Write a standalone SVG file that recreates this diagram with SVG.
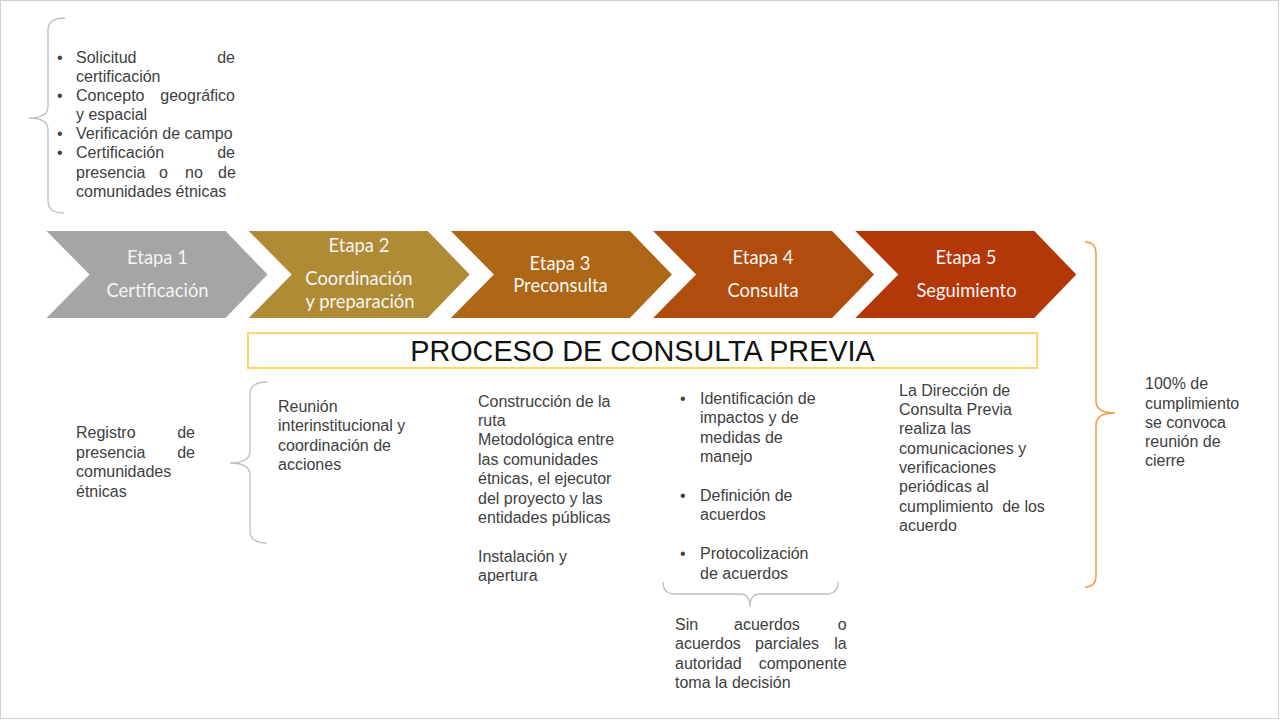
<svg xmlns="http://www.w3.org/2000/svg" width="1280" height="720" viewBox="0 0 1280 720">
<style>
.t{font-family:"Liberation Sans",Arial,sans-serif;font-size:16px;fill:#404040}
.ch{font-family:Lato,"Open Sans",sans-serif;font-size:18.4px;fill:#f4f4f4;text-anchor:middle}
.br{fill:none;stroke:#bfbfbf;stroke-width:1.3}
.e{text-anchor:end}
</style>
<rect x="0.5" y="0.5" width="1278" height="718" fill="#ffffff" stroke="#d0d0d0" stroke-width="1"/>

<g id="connectors">
<path class="br" d="M65,18 Q48,18 48,30 L48,106 Q48,118 29,118 Q48,118 48,130 L48,201 Q48,213 64,213"/>
<path class="br" d="M267,382 Q250,382 250,394 L250,451 Q250,463 230,463 Q250,463 250,475 L250,531 Q250,543 267,543"/>
<path class="br" d="M663,582 Q663,594 675,594 L740,594 Q750,594 750,607 Q750,594 760,594 L826,594 Q838,594 838,582"/>
<path d="M1085,242 Q1096,242 1096,254 L1096,401 Q1096,413 1115,413 Q1096,413 1096,425 L1096,575 Q1096,587 1085,587" fill="none" stroke="#f79646" stroke-width="1.5"/>
</g>

<g id="top-list">
<text class="t"><tspan x="57" y="62.7">•</tspan><tspan x="76" y="62.7">Solicitud</tspan></text>
<text class="t" x="235" y="62.7" text-anchor="end">de</text>
<text class="t" x="76" y="81.8">certificación</text>
<text class="t"><tspan x="57" y="101">•</tspan><tspan x="76" y="101">Concepto</tspan></text>
<text class="t" x="235" y="101" text-anchor="end">geográfico</text>
<text class="t" x="76" y="120.1">y espacial</text>
<text class="t"><tspan x="57" y="139.3">•</tspan><tspan x="76" y="139.3">Verificación de campo</tspan></text>
<text class="t"><tspan x="57" y="158.4">•</tspan><tspan x="76" y="158.4">Certificación</tspan></text>
<text class="t" x="235" y="158.4" text-anchor="end">de</text>
<text class="t" y="177.6"><tspan x="76">presencia</tspan><tspan x="159">o</tspan><tspan x="185">no</tspan><tspan x="218">de</tspan></text>
<text class="t" x="76" y="196.7">comunidades étnicas</text>
</g>

<g id="etapa1">
<polygon points="46.5,231 225.5,231 267.5,274.5 225.5,318 46.5,318 89.5,274.5" fill="#a5a5a5"/>
<text class="ch" x="157.5" y="263.5">Etapa 1</text>
<text class="ch" x="157.5" y="296.5">Certificación</text>
</g>
<g id="etapa2">
<polygon points="248.7,231 427.7,231 469.7,274.5 427.7,318 248.7,318 291.7,274.5" fill="#b08b36"/>
<text class="ch" x="359" y="252">Etapa 2</text>
<text class="ch" x="359" y="285">Coordinación</text>
<text class="ch" x="360" y="308">y preparación</text>
</g>
<g id="etapa3">
<polygon points="450.9,231 629.9,231 671.9,274.5 629.9,318 450.9,318 493.9,274.5" fill="#ad6716"/>
<text class="ch" x="560" y="269.5">Etapa 3</text>
<text class="ch" x="560.5" y="291.5">Preconsulta</text>
</g>
<g id="etapa4">
<polygon points="653.1,231 832.1,231 874.1,274.5 832.1,318 653.1,318 696.1,274.5" fill="#b04c0d"/>
<text class="ch" x="763" y="263.5">Etapa 4</text>
<text class="ch" x="763" y="296.5">Consulta</text>
</g>
<g id="etapa5">
<polygon points="855.3,231 1034.3,231 1076.3,274.5 1034.3,318 855.3,318 898.3,274.5" fill="#b4370a"/>
<text class="ch" x="966" y="263.5">Etapa 5</text>
<text class="ch" x="966.5" y="296.5">Seguimiento</text>
</g>

<g id="proceso">
<rect x="248" y="333" width="789" height="35" fill="#ffffff" stroke="#fdd56a" stroke-width="2"/>
<text x="642.5" y="361" text-anchor="middle" style="font-family:'Liberation Sans',Arial,sans-serif;font-size:28.8px;fill:#111111">PROCESO DE CONSULTA PREVIA</text>
</g>

<g id="registro">
<text class="t" x="76" y="438.3">Registro</text>
<text class="t" x="195" y="438.3" text-anchor="end">de</text>
<text class="t" x="76" y="457.8">presencia</text>
<text class="t" x="195" y="457.8" text-anchor="end">de</text>
<text class="t" x="76" y="477.3">comunidades</text>
<text class="t" x="76" y="496.8">étnicas</text>
</g>

<g id="reunion">
<text class="t" x="278" y="411.7">Reunión</text>
<text class="t" x="278" y="431.2">interinstitucional y</text>
<text class="t" x="278" y="450.7">coordinación de</text>
<text class="t" x="278" y="470.2">acciones</text>
</g>

<g id="preconsulta-text">
<text class="t" x="478" y="406.7">Construcción de la</text>
<text class="t" x="478" y="426">ruta</text>
<text class="t" x="478" y="445.4">Metodológica entre</text>
<text class="t" x="478" y="464.8">las comunidades</text>
<text class="t" x="478" y="484.2">étnicas, el ejecutor</text>
<text class="t" x="478" y="503.6">del proyecto y las</text>
<text class="t" x="478" y="523">entidades públicas</text>
<text class="t" x="478" y="561.7">Instalación y</text>
<text class="t" x="478" y="581">apertura</text>
</g>

<g id="consulta-text">
<text class="t" x="680" y="404">•</text>
<text class="t" x="700" y="404">Identificación de</text>
<text class="t" x="700" y="423.4">impactos y de</text>
<text class="t" x="700" y="442.8">medidas de</text>
<text class="t" x="700" y="462.2">manejo</text>
<text class="t" x="680" y="501">•</text>
<text class="t" x="700" y="501">Definición de</text>
<text class="t" x="700" y="520.4">acuerdos</text>
<text class="t" x="680" y="559.4">•</text>
<text class="t" x="700" y="559.4">Protocolización</text>
<text class="t" x="700" y="578.8">de acuerdos</text>
</g>

<g id="sin-acuerdos">
<text class="t" y="630"><tspan x="675">Sin</tspan><tspan x="734">acuerdos</tspan></text>
<text class="t" x="846.7" y="630" text-anchor="end">o</text>
<text class="t" y="649.4"><tspan x="675">acuerdos</tspan><tspan x="755">parciales</tspan></text>
<text class="t" x="846.7" y="649.4" text-anchor="end">la</text>
<text class="t" x="675" y="668.8">autoridad</text>
<text class="t" x="846.7" y="668.8" text-anchor="end">componente</text>
<text class="t" x="675" y="688.2">toma la decisión</text>
</g>

<g id="seguimiento-text">
<text class="t" x="899" y="395.7">La Dirección de</text>
<text class="t" x="899" y="415">Consulta Previa</text>
<text class="t" x="899" y="434.3">realiza las</text>
<text class="t" x="899" y="453.7">comunicaciones y</text>
<text class="t" x="899" y="473">verificaciones</text>
<text class="t" x="899" y="492.3">periódicas al</text>
<text class="t" x="899" y="511.7" xml:space="preserve">cumplimiento  de los</text>
<text class="t" x="899" y="531">acuerdo</text>
</g>

<g id="cierre">
<text class="t" x="1145" y="389.3">100% de</text>
<text class="t" x="1145" y="408.5">cumplimiento</text>
<text class="t" x="1145" y="427.7">se convoca</text>
<text class="t" x="1145" y="446.9">reunión de</text>
<text class="t" x="1145" y="466.1">cierre</text>
</g>
</svg>
